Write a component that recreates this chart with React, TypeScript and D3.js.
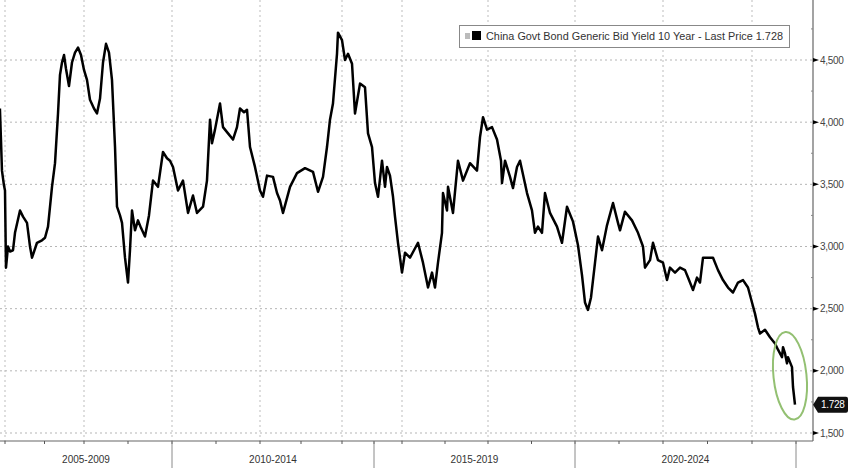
import React from "react";
import * as d3 from "d3";

// decimal year
const years: number[] = [
  2005.873, 2005.899, 2005.924, 2005.975, 2006.0, 2006.025, 2006.076, 2006.127, 2006.203, 2006.253,
  2006.38, 2006.456, 2006.557, 2006.633, 2006.684, 2006.81, 2006.937, 2007.013, 2007.089, 2007.19,
  2007.266, 2007.342, 2007.392, 2007.443, 2007.494, 2007.544, 2007.62, 2007.696, 2007.772, 2007.848,
  2007.924, 2008.0, 2008.068, 2008.136, 2008.227, 2008.295, 2008.364, 2008.432, 2008.5, 2008.568,
  2008.636, 2008.705, 2008.75, 2008.818, 2008.864, 2008.932, 2009.0, 2009.045, 2009.091, 2009.159,
  2009.227, 2009.295, 2009.386, 2009.477, 2009.568, 2009.682, 2009.795, 2009.886, 2009.955, 2010.023,
  2010.136, 2010.25, 2010.364, 2010.477, 2010.568, 2010.705, 2010.795, 2010.864, 2010.909, 2010.977,
  2011.091, 2011.159, 2011.273, 2011.386, 2011.477, 2011.545, 2011.636, 2011.705, 2011.773, 2011.886,
  2012.0, 2012.073, 2012.171, 2012.317, 2012.415, 2012.488, 2012.561, 2012.732, 2012.902, 2013.098,
  2013.293, 2013.415, 2013.537, 2013.634, 2013.707, 2013.78, 2013.878, 2013.902, 2014.0, 2014.094,
  2014.188, 2014.313, 2014.406, 2014.563, 2014.719, 2014.813, 2014.938, 2015.036, 2015.143, 2015.286,
  2015.393, 2015.464, 2015.571, 2015.679, 2015.75, 2015.857, 2016.0, 2016.07, 2016.186, 2016.279,
  2016.372, 2016.488, 2016.605, 2016.698, 2016.767, 2016.837, 2016.93, 2016.953, 2017.047, 2017.07,
  2017.186, 2017.302, 2017.419, 2017.581, 2017.744, 2017.814, 2017.884, 2017.977, 2018.092, 2018.207,
  2018.299, 2018.322, 2018.391, 2018.506, 2018.575, 2018.667, 2018.736, 2018.897, 2019.011, 2019.08,
  2019.149, 2019.241, 2019.31, 2019.425, 2019.586, 2019.701, 2019.816, 2019.954, 2020.068, 2020.159,
  2020.227, 2020.295, 2020.364, 2020.455, 2020.523, 2020.614, 2020.727, 2020.864, 2020.977, 2021.023,
  2021.136, 2021.295, 2021.432, 2021.545, 2021.591, 2021.705, 2021.773, 2021.886, 2022.0, 2022.09,
  2022.157, 2022.27, 2022.382, 2022.494, 2022.562, 2022.674, 2022.764, 2022.831, 2022.899, 2023.011,
  2023.124, 2023.236, 2023.348, 2023.461, 2023.573, 2023.685, 2023.798, 2023.91, 2024.0, 2024.068,
  2024.136, 2024.182, 2024.295, 2024.409, 2024.523, 2024.591, 2024.682, 2024.705, 2024.75, 2024.795,
  2024.818, 2024.909, 2024.932, 2024.977,
];

// yield, %
const yields: number[] = [
  4.11, 3.86, 3.61, 3.49, 3.45, 2.83, 3.0, 2.96, 2.97, 3.11,
  3.29, 3.24, 3.19, 3.0, 2.91, 3.03, 3.05, 3.07, 3.16, 3.48,
  3.67, 4.07, 4.38, 4.48, 4.54, 4.43, 4.29, 4.48, 4.56, 4.6,
  4.54, 4.42, 4.34, 4.18, 4.11, 4.07, 4.19, 4.48, 4.63, 4.56,
  4.34, 3.8, 3.32, 3.25, 3.19, 2.91, 2.71, 2.97, 3.29, 3.13,
  3.21, 3.15, 3.08, 3.25, 3.53, 3.48, 3.76, 3.71, 3.69, 3.64,
  3.45, 3.53, 3.27, 3.41, 3.27, 3.32, 3.53, 4.02, 3.83, 3.94,
  4.15, 3.96, 3.91, 3.86, 3.96, 4.11, 4.08, 4.1, 3.8, 3.64,
  3.45, 3.4, 3.57, 3.56, 3.43, 3.37, 3.27, 3.48, 3.59, 3.63,
  3.6, 3.44, 3.56, 3.8, 4.02, 4.15, 4.55, 4.72, 4.66, 4.5,
  4.55, 4.47, 4.07, 4.31, 4.28, 3.91, 3.8, 3.51, 3.4, 3.69,
  3.48, 3.64, 3.57, 3.4, 3.24, 3.03, 2.79, 2.95, 2.91, 2.97,
  3.03, 2.87, 2.67, 2.79, 2.67, 2.87, 3.11, 3.43, 3.29, 3.48,
  3.27, 3.69, 3.53, 3.67, 3.61, 3.88, 4.04, 3.94, 3.96, 3.86,
  3.69, 3.51, 3.69, 3.56, 3.47, 3.64, 3.69, 3.43, 3.29, 3.11,
  3.16, 3.11, 3.43, 3.27, 3.16, 3.03, 3.32, 3.2, 3.01, 2.77,
  2.55, 2.49, 2.59, 2.87, 3.08, 2.97, 3.17, 3.35, 3.19, 3.13,
  3.28, 3.21, 3.11, 3.0, 2.83, 2.89, 3.03, 2.89, 2.87, 2.73,
  2.83, 2.79, 2.83, 2.81, 2.75, 2.65, 2.75, 2.71, 2.91, 2.91,
  2.91, 2.81, 2.73, 2.67, 2.63, 2.71, 2.73, 2.67, 2.55, 2.46,
  2.35, 2.3, 2.33, 2.27, 2.22, 2.17, 2.11, 2.19, 2.14, 2.06,
  2.11, 2.03, 1.87, 1.728,
];

const yTicks: number[] = [1.5, 2.0, 2.5, 3.0, 3.5, 4.0, 4.5];
const yTickLabels: string[] = ["1,500", "2,000", "2,500", "3,000", "3,500", "4,000", "4,500"];
const yMinorTicks: number[] = [1.75, 2.25, 2.75, 3.25, 3.75, 4.25, 4.75];
const tickYears: number[] = d3.range(2005, 2026);
const gridYears: number[] = [2006, 2008, 2010, 2012, 2014, 2016, 2018, 2020, 2022, 2024];
const blockBounds: number[] = [2005, 2010, 2015, 2020, 2025];
const blockLabels: string[] = ["2005-2009", "2010-2014", "2015-2019", "2020-2024"];
const legendText = "China Govt Bond Generic Bid Yield 10 Year - Last Price 1.728";
const lastPrice = 1.728;
const highlightCenter = 1.96;

const W = 848;
const H = 468;
const axisX = 813;
const axisY = 441;

export default function App() {
  // Bloomberg plots by observation: the time axis is piecewise uniform
  const x = d3
    .scaleLinear()
    .domain([2005, 2006, 2008, 2010, 2012, 2014, 2015, 2016, 2018, 2020, 2022, 2024, 2025])
    .range([-35, 5, 84, 172, 260, 342, 374, 402, 488, 575, 663, 752, 796]);
  const y = d3.scaleLinear().domain([1.5, 4.5]).range([433, 60]);

  const data = years.map((yr, i) => [yr, yields[i]] as [number, number]);
  const line = d3
    .line<[number, number]>()
    .x((d) => x(d[0]))
    .y((d) => y(d[1]));

  const font = "'Liberation Sans', Arial, sans-serif";
  const lastY = y(lastPrice);
  const lastX = x(years[years.length - 1]);
  const ecx = lastX - 5;
  const ecy = y(highlightCenter);

  return (
    <svg
      width={W}
      height={H}
      style={{ position: "absolute", left: 0, top: 0, background: "#fff" }}
      fontFamily={font}
    >
      <rect x={0} y={0} width={W} height={H} fill="#fff" />
      <defs>
        <clipPath id="plot">
          <rect x={0} y={0} width={axisX} height={axisY} />
        </clipPath>
      </defs>

      {/* horizontal gridlines */}
      {yTicks.map((t) => (
        <line
          key={"hg" + t}
          x1={0}
          x2={axisX}
          y1={y(t)}
          y2={y(t)}
          stroke="#b5b5b5"
          strokeWidth={1}
          strokeDasharray="2,3"
        />
      ))}
      {/* vertical gridlines */}
      {gridYears.map((g) => (
        <line
          key={"vg" + g}
          x1={x(g)}
          x2={x(g)}
          y1={0}
          y2={axisY}
          stroke="#bdbdbd"
          strokeWidth={1}
          strokeDasharray="2,3"
        />
      ))}

      {/* series */}
      <path
        d={line(data) || ""}
        fill="none"
        stroke="#000"
        strokeWidth={2.5}
        strokeLinejoin="round"
        clipPath="url(#plot)"
      />

      {/* highlight ellipse */}
      <ellipse
        cx={ecx}
        cy={ecy}
        rx={16.5}
        ry={44}
        fill="none"
        stroke="#93c072"
        strokeWidth={2}
        transform={`rotate(-6 ${ecx} ${ecy})`}
      />

      {/* axes */}
      <line x1={0} x2={axisX} y1={axisY} y2={axisY} stroke="#666" strokeWidth={1.2} />
      <line x1={axisX} x2={axisX} y1={0} y2={axisY} stroke="#666" strokeWidth={1.2} />

      {/* x ticks */}
      {tickYears.map((t) => (
        <line key={"xt" + t} x1={x(t)} x2={x(t)} y1={axisY} y2={axisY + 3} stroke="#555" strokeWidth={1} />
      ))}
      {blockBounds.map((b) => (
        <line key={"bb" + b} x1={x(b)} x2={x(b)} y1={axisY} y2={H} stroke="#8a8a8a" strokeWidth={1} />
      ))}
      {blockLabels.map((lab, i) => {
        const a = Math.max(0, x(blockBounds[i]));
        const b = x(blockBounds[i + 1]);
        return (
          <text key={lab} x={(a + b) / 2} y={463} textAnchor="middle" fontSize={10} fill="#333">
            {lab}
          </text>
        );
      })}

      {/* y ticks */}
      {yMinorTicks.map((t) => (
        <line key={"ym" + t} x1={axisX - 2} x2={axisX} y1={y(t)} y2={y(t)} stroke="#888" strokeWidth={1} />
      ))}
      {yTicks.map((t, i) => (
        <g key={"yt" + t}>
          <path
            d={`M${axisX},${y(t) - 2} L${axisX + 6},${y(t)} L${axisX},${y(t) + 2} Z`}
            fill="#000"
          />
          <text x={axisX + 7} y={y(t) + 3.5} fontSize={10} fill="#444" letterSpacing={-0.3}>
            {yTickLabels[i]}
          </text>
        </g>
      ))}

      {/* last price tag */}
      <path
        d={`M${axisX},${lastY} L${axisX + 5},${lastY - 8} L${W - 2},${lastY - 8} Q${W},${lastY - 8} ${W},${
          lastY - 6
        } L${W},${lastY + 6} Q${W},${lastY + 8} ${W - 2},${lastY + 8} L${axisX + 5},${lastY + 8} Z`}
        fill="#111"
      />
      <text x={axisX + 8} y={lastY + 3.5} fontSize={10} fill="#fff" letterSpacing={-0.3}>
        {lastPrice.toFixed(3)}
      </text>

      {/* legend */}
      <rect x={459.5} y={25.5} width={330} height={22} fill="#fff" stroke="#888" strokeWidth={1} />
      <rect x={465} y={33} width={5} height={6} fill="#bbb" />
      <rect x={472} y={31} width={9} height={9} fill="#000" />
      <text
        x={486}
        y={39.5}
        fontSize={10}
        fill="#333"
        textLength={297}
        lengthAdjust="spacingAndGlyphs"
      >
        {legendText}
      </text>
    </svg>
  );
}
